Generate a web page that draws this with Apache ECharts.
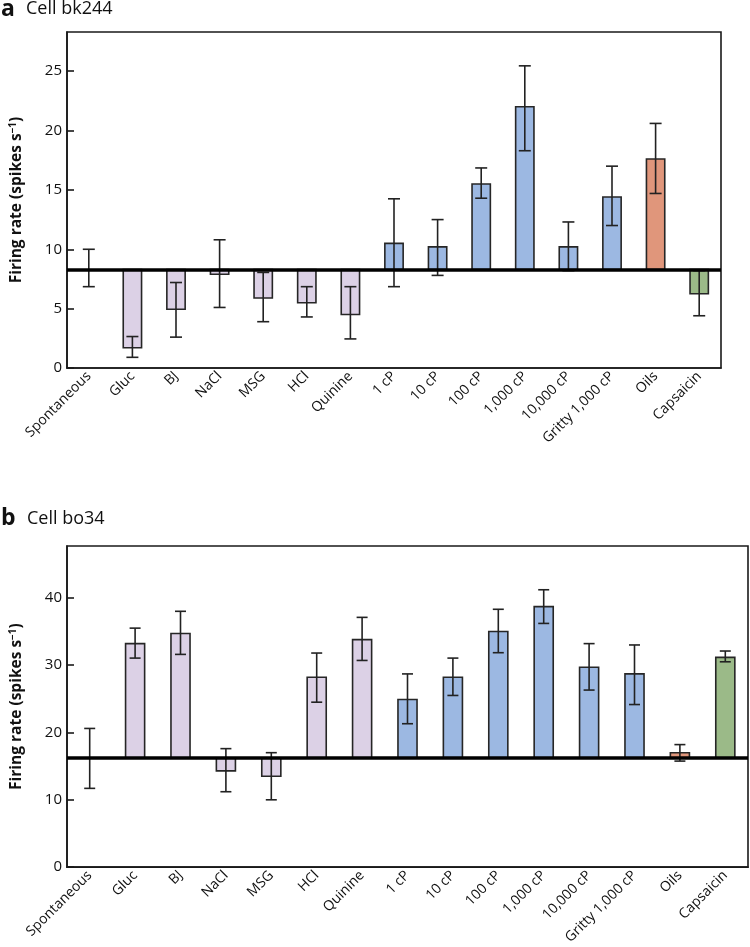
<!DOCTYPE html>
<html>
<head>
<meta charset="utf-8">
<script src="https://cdn.jsdelivr.net/npm/echarts@6/dist/echarts.min.js"></script>
<style>
html,body{margin:0;padding:0;background:#fff;}
#chart{width:750px;height:947px;}
</style>
</head>
<body>
<div id="chart"></div>
<script>
// ---- Data ----
const categories = ['Spontaneous','Gluc','BJ','NaCl','MSG','HCl','Quinine','1 cP','10 cP','100 cP','1,000 cP','10,000 cP','Gritty 1,000 cP','Oils','Capsaicin'];
const stimulusGroup = ['spont','taste','taste','taste','taste','taste','taste','visc','visc','visc','visc','visc','visc','oil','caps'];

// Panel a: Cell bk244
const baselineA = 8.3;
const meansA   = [8.3, 1.7, 4.95, 7.9, 5.9, 5.5, 4.5, 10.5, 10.2, 15.5, 22.0, 10.2, 14.4, 17.6, 6.25];
const errLowA  = [6.85, 0.9, 2.6, 5.1, 3.9, 4.3, 2.45, 6.85, 7.8, 14.3, 18.3, 8.2, 12.0, 14.7, 4.4];
const errHighA = [10.0, 2.65, 7.2, 10.8, 8.05, 6.85, 6.85, 14.25, 12.5, 16.85, 25.45, 12.3, 17.0, 20.6, 8.2];
const yTicksA = [0, 5, 10, 15, 20, 25];

// Panel b: Cell bo34
const baselineB = 16.25;
const meansB   = [16.25, 33.2, 34.7, 14.3, 13.5, 28.2, 33.8, 24.9, 28.2, 35.0, 38.7, 29.7, 28.7, 17.0, 31.15];
const errLowB  = [11.7, 31.05, 31.6, 11.2, 10.0, 24.5, 30.7, 21.3, 25.5, 31.85, 36.2, 26.3, 24.15, 15.75, 30.5];
const errHighB = [20.6, 35.5, 38.0, 17.6, 17.0, 31.8, 37.1, 28.7, 31.05, 38.3, 41.2, 33.2, 33.0, 18.2, 32.1];
const yTicksB = [0, 10, 20, 30, 40];

// ---- Styles ----
const groupColors = {spont:'none', taste:'#dcd1e6', visc:'#9cb8e2', oil:'#e0967b', caps:'#9bba88'};
const FONT = '"Open Sans", "Noto Sans", sans-serif';
const INK = '#1a1a1a';

const chart = echarts.init(document.getElementById('chart'), null, {renderer:'canvas'});

function barSeries(gridIdx, means, baseline) {
  return {
    type: 'custom',
    xAxisIndex: gridIdx, yAxisIndex: gridIdx,
    z: 2,
    data: means.map((v, i) => [i, v]),
    renderItem: function (params, api) {
      const i = api.value(0);
      const v = api.value(1);
      const grp = stimulusGroup[i];
      if (grp === 'spont') return null;
      const p0 = api.coord([i, baseline]);
      const p1 = api.coord([i, v]);
      const band = api.size([1, 0])[0];
      const w = band * 0.42;
      return {
        type: 'rect',
        shape: {x: p0[0] - w / 2, y: Math.min(p0[1], p1[1]), width: w, height: Math.abs(p1[1] - p0[1])},
        style: {fill: groupColors[grp], stroke: '#262626', lineWidth: 1.6}
      };
    }
  };
}

function errSeries(gridIdx, lows, highs, capW) {
  return {
    type: 'custom',
    xAxisIndex: gridIdx, yAxisIndex: gridIdx,
    z: 3,
    data: lows.map((lo, i) => [i, lo, highs[i]]),
    renderItem: function (params, api) {
      const i = api.value(0);
      const lo = api.coord([i, api.value(1)]);
      const hi = api.coord([i, api.value(2)]);
      const x = lo[0];
      const st = {stroke: '#222', lineWidth: 1.6};
      return {
        type: 'group',
        children: [
          {type: 'line', shape: {x1: x, y1: lo[1], x2: x, y2: hi[1]}, style: st},
          {type: 'line', shape: {x1: x - capW / 2, y1: lo[1], x2: x + capW / 2, y2: lo[1]}, style: st},
          {type: 'line', shape: {x1: x - capW / 2, y1: hi[1], x2: x + capW / 2, y2: hi[1]}, style: st}
        ]
      };
    }
  };
}

function baselineSeries(gridIdx, baseline) {
  return {
    type: 'line',
    xAxisIndex: gridIdx, yAxisIndex: gridIdx,
    z: 5,
    data: categories.map(() => null),
    showSymbol: false,
    silent: true,
    markLine: {
      silent: true,
      symbol: ['none', 'none'],
      label: {show: false},
      lineStyle: {color: '#000', width: 3.6, type: 'solid'},
      data: [{yAxis: baseline}]
    }
  };
}

function xAxis(gridIdx) {
  return {
    type: 'category', gridIndex: gridIdx, data: categories,
    axisLine: {lineStyle: {color: INK, width: 1.6}},
    axisTick: {inside: true, length: 6, alignWithLabel: true, lineStyle: {color: INK, width: 1.6}},
    axisLabel: {rotate: 45, interval: 0, color: '#111', fontSize: 14, fontFamily: FONT, margin: 6},
    splitLine: {show: false}
  };
}

function yAxis(gridIdx, max, interval, ticks) {
  return {
    type: 'value', gridIndex: gridIdx, min: 0, max: max, interval: interval,
    axisLine: {show: true, lineStyle: {color: INK, width: 1.6}},
    axisTick: {show: true, inside: true, length: 7, lineStyle: {color: INK, width: 1.6}},
    axisLabel: {color: '#111', fontSize: 15, fontFamily: FONT, margin: 5, showMaxLabel: false,
      formatter: v => ticks.includes(v) ? String(v) : ''},
    splitLine: {show: false},
    name: '{n|Firing rate (spikes s}{s|−1}{n|)}',
    nameLocation: 'middle',
    nameGap: 42,
    nameRotate: 90,
    nameTextStyle: {
      rich: {
        n: {fontSize: 15.5, fontWeight: 'bold', fontFamily: FONT, color: '#111'},
        s: {fontSize: 10, fontWeight: 'bold', fontFamily: FONT, color: '#111', verticalAlign: 'top', padding: [0, 0, 7, 0]}
      }
    }
  };
}

const option = {
  backgroundColor: '#fff',
  animation: false,
  grid: [
    {left: 67, top: 32, right: 29, bottom: 579, show: true, borderColor: INK, borderWidth: 1.6, backgroundColor: 'transparent'},
    {left: 67, top: 546, right: 2, bottom: 79, show: true, borderColor: INK, borderWidth: 1.6, backgroundColor: 'transparent'}
  ],
  xAxis: [xAxis(0), xAxis(1)],
  yAxis: [yAxis(0, 28.3, 5, yTicksA), yAxis(1, 47.7, 10, yTicksB)],
  graphic: [
    {type: 'text', left: 1, top: -2, style: {text: 'a', font: 'bold 23px ' + FONT, fill: '#111'}},
    {type: 'text', left: 26, top: 0, style: {text: 'Cell bk244', font: '18px ' + FONT, fill: '#111'}},
    {type: 'text', left: 1, top: 507, style: {text: 'b', font: 'bold 23px ' + FONT, fill: '#111'}},
    {type: 'text', left: 27, top: 510, style: {text: 'Cell bo34', font: '18px ' + FONT, fill: '#111'}}
  ],
  series: [
    barSeries(0, meansA, baselineA),
    errSeries(0, errLowA, errHighA, 12),
    baselineSeries(0, baselineA),
    barSeries(1, meansB, baselineB),
    errSeries(1, errLowB, errHighB, 11),
    baselineSeries(1, baselineB)
  ]
};
chart.setOption(option);
</script>
</body>
</html>
